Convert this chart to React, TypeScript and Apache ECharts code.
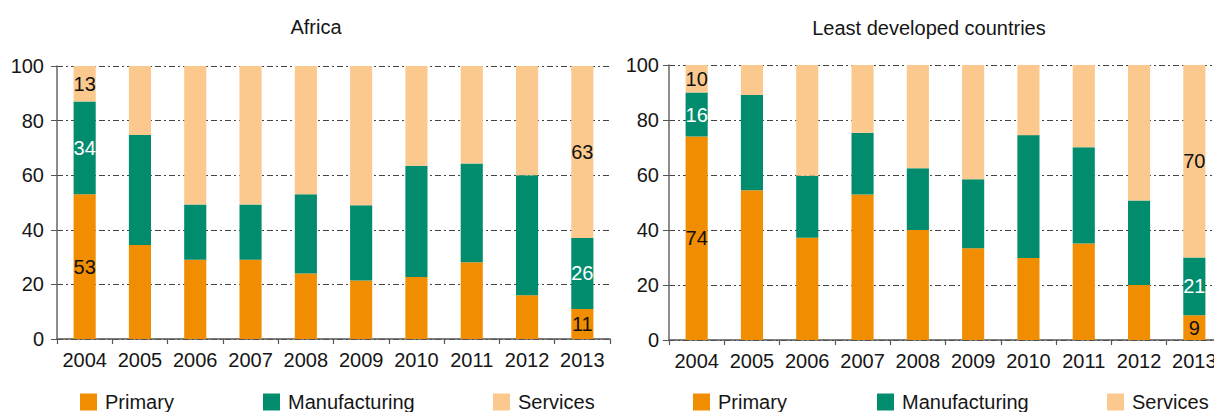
import React, { useEffect, useRef } from "react";
import * as echarts from "echarts";

const years = ["2004", "2005", "2006", "2007", "2008", "2009", "2010", "2011", "2012", "2013"];
const chartTitles = ["Africa", "Least developed countries"];
const seriesNames = ["Primary", "Manufacturing", "Services"];
const yTicks = [0, 20, 40, 60, 80, 100];

const africaPrimary = [53, 34.4, 29, 29, 24, 21.4, 22.7, 28.1, 16, 11];
const africaManufacturing = [34, 40.3, 20.3, 20.3, 29, 27.6, 40.8, 36.2, 44, 26];
const africaServices = [13, 25.3, 50.7, 50.7, 47, 51, 36.5, 35.7, 40, 63];

const ldcPrimary = [74, 54.5, 37.2, 52.9, 40, 33.4, 29.8, 35.1, 20, 9];
const ldcManufacturing = [16, 34.6, 22.5, 22.5, 22.5, 25.1, 44.7, 35, 30.7, 21];
const ldcServices = [10, 10.9, 40.3, 24.6, 37.5, 41.5, 25.5, 29.9, 49.3, 70];

const labeledIndices = [0, 9];

const COLORS = ["#F18D00", "#008C6D", "#FBC98E"];
const LABEL_COLORS = ["#111", "#fff", "#111"];
const FONT = "'Liberation Sans', Arial, Helvetica, sans-serif";
const TEXT = "#161616";

export default function App() {
  const ref = useRef<HTMLDivElement>(null);

  useEffect(() => {
    document.body.style.margin = "0";
    if (!ref.current) return;
    const chart = echarts.init(ref.current, undefined, { renderer: "svg" });

    const grids = [
      { left: 57, top: 66, width: 553, height: 273 },
      { left: 669, top: 65, width: 553, height: 275 },
    ];
    const yLabelMargins = [13, 10];

    const mkData = (vals: number[], si: number) =>
      vals.map((v, i) =>
        labeledIndices.includes(i)
          ? {
              value: v,
              label: {
                show: true,
                position: "inside",
                color: LABEL_COLORS[si],
                fontSize: 20,
                fontFamily: FONT,
                formatter: (p: any) => String(Math.round(p.value)),
              },
            }
          : v
      );

    const groups = [
      [africaPrimary, africaManufacturing, africaServices],
      [ldcPrimary, ldcManufacturing, ldcServices],
    ];

    const series: any[] = [];
    groups.forEach((g, gi) => {
      g.forEach((vals, si) => {
        series.push({
          type: "bar",
          name: seriesNames[si],
          xAxisIndex: gi,
          yAxisIndex: gi,
          stack: "s" + gi,
          barWidth: "40%",
          itemStyle: { color: COLORS[si] },
          label: { show: false },
          data: mkData(vals, si),
        });
      });
    });

    const xAxis = grids.map((_, gi) => ({
      type: "category",
      gridIndex: gi,
      data: years,
      boundaryGap: true,
      axisLine: { show: true, lineStyle: { color: "#555", width: 1.5 } },
      axisTick: { show: true, length: 5, interval: 0, lineStyle: { color: "#555", width: 1.2 } },
      axisLabel: { color: TEXT, fontSize: 20, fontFamily: FONT, margin: 11, interval: 0 },
      splitLine: { show: false },
    }));

    const yAxis = grids.map((_, gi) => ({
      type: "value",
      gridIndex: gi,
      min: yTicks[0],
      max: yTicks[yTicks.length - 1],
      interval: 20,
      axisLine: { show: true, lineStyle: { color: "#666", width: 1.5 } },
      axisTick: { show: true, length: 6, lineStyle: { color: "#555", width: 1 } },
      axisLabel: { color: TEXT, fontSize: 20, fontFamily: FONT, margin: yLabelMargins[gi] },
      splitLine: {
        show: true,
        lineStyle: { color: "#444", width: 1, type: [6, 3, 2, 3] },
      },
    }));

    const legendLefts = [
      [80, 263, 493],
      [693, 877, 1107],
    ];
    const legend: any[] = [];
    legendLefts.forEach((row) =>
      row.forEach((lx, si) => {
        legend.push({
          data: [seriesNames[si]],
          left: lx,
          top: 392,
          padding: 0,
          icon: "rect",
          itemWidth: 17,
          itemHeight: 17,
          selectedMode: false,
          textStyle: { color: TEXT, fontSize: 20, fontFamily: FONT, padding: [0, 0, 0, 3] },
        });
      })
    );

    chart.setOption({
      animation: false,
      backgroundColor: "#fff",
      title: [
        {
          text: chartTitles[0],
          left: 311,
          textAlign: "center",
          top: 12,
          textStyle: { color: TEXT, fontSize: 20, fontWeight: "normal", fontFamily: FONT },
        },
        {
          text: chartTitles[1],
          left: 924,
          textAlign: "center",
          top: 13,
          textStyle: { color: TEXT, fontSize: 20, fontWeight: "normal", fontFamily: FONT },
        },
      ],
      grid: grids,
      xAxis,
      yAxis,
      legend,
      series,
    });

    return () => chart.dispose();
  }, []);

  return (
    <div style={{ width: 1214, height: 412, overflow: "hidden", position: "relative" }}>
      <div ref={ref} style={{ width: 1240, height: 412 }} />
    </div>
  );
}
